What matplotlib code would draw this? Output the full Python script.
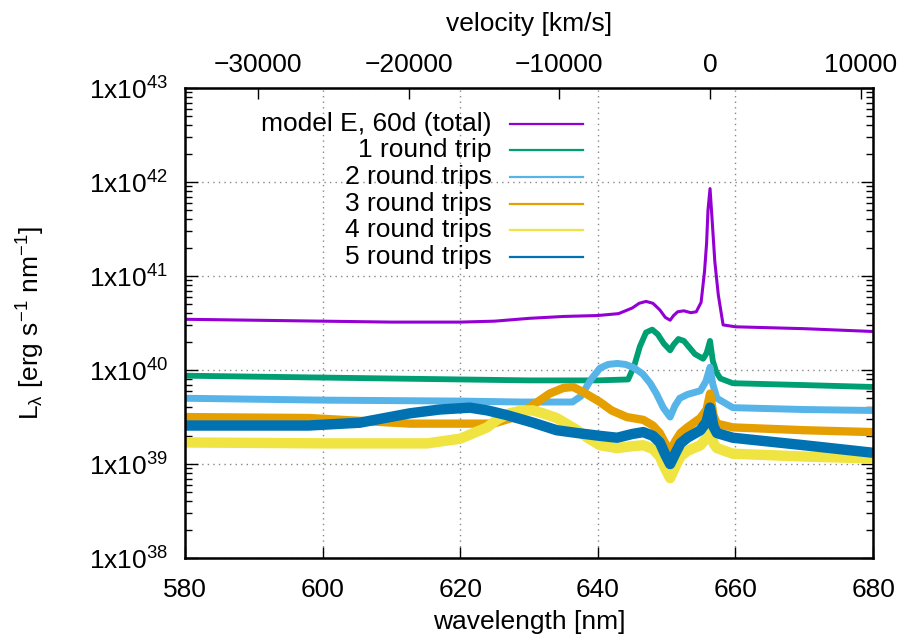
"""Spectra of model E at 60d split by number of round trips."""

import numpy as np
import matplotlib
matplotlib.use("Agg")
import matplotlib.pyplot as plt
from matplotlib.ticker import FixedLocator, LogLocator, NullFormatter, FuncFormatter

plt.rcParams['font.family'] = ['Liberation Sans', 'DejaVu Sans']
plt.rcParams['mathtext.fontset'] = 'custom'
plt.rcParams['mathtext.rm'] = 'Liberation Sans'
plt.rcParams['mathtext.it'] = 'Liberation Sans'

FS = 19

# wavelength [nm] and log10 L_lambda [erg/s/nm]
total_wl = [580, 590, 600, 610, 620, 625, 630, 635, 640, 643, 645, 646, 647,
            648, 649, 649.8, 650.5, 651, 651.6, 652.5, 653.5, 654.3, 655,
            655.5, 655.8, 656.0, 656.3, 656.6, 657.0, 657.5, 658.2, 660, 670,
            680]
total_logL = [40.54, 40.53, 40.52, 40.51, 40.51, 40.52, 40.55, 40.57, 40.58,
              40.60, 40.66, 40.71, 40.73, 40.71, 40.64, 40.56, 40.53, 40.58,
              40.62, 40.63, 40.61, 40.62, 40.72, 41.05, 41.35, 41.70, 41.93,
              41.60, 41.15, 40.80, 40.48, 40.46, 40.44, 40.41]

trip1_wl = [580, 600, 620, 630, 640, 644.4, 645.3, 646.1, 647, 647.9, 648.7,
            649.6, 650.5, 651, 651.7, 652.5, 653.3, 654.1, 655.3, 655.8, 656.3,
            656.7, 657.2, 657.8, 659.6, 670, 680]
trip1_logL = [39.94, 39.92, 39.90, 39.89, 39.89, 39.90, 40.05, 40.25, 40.40,
              40.43, 40.38, 40.28, 40.21, 40.27, 40.33, 40.31, 40.24, 40.17,
              40.12, 40.18, 40.31, 40.10, 39.98, 39.91, 39.86, 39.84, 39.82]

trip2_wl = [580, 600, 620, 628.7, 636.3, 637.5, 639, 640.3, 641.5, 642.8, 644,
            645.1, 646.5, 647.6, 648.5, 649.5, 650.5, 651.2, 651.9, 653, 654.9,
            655.7, 656.3, 656.7, 657.3, 659.6, 670, 680]
trip2_logL = [39.70, 39.68, 39.67, 39.66, 39.66, 39.72, 39.90, 40.02, 40.06,
              40.07, 40.06, 40.03, 39.96, 39.86, 39.75, 39.60, 39.50, 39.62,
              39.70, 39.74, 39.78, 39.88, 40.03, 39.85, 39.70, 39.60, 39.58,
              39.57]

trip3_wl = [580, 598, 612.7, 624.8, 628, 630.6, 633, 635, 636.4, 638, 640.3,
            642, 644.2, 646.6, 648, 649.0, 649.8, 650.5, 651.3, 652, 653.0,
            654.9, 655.8, 656.3, 656.8, 657.3, 659.6, 670, 680]
trip3_logL = [39.50, 39.49, 39.43, 39.43, 39.50, 39.63, 39.75, 39.81, 39.82,
              39.76, 39.66, 39.57, 39.50, 39.47, 39.41, 39.33, 39.22, 39.14,
              39.25, 39.33, 39.39, 39.49, 39.58, 39.75, 39.52, 39.43, 39.39,
              39.36, 39.34]

trip4_wl = [580, 600.6, 615.2, 620, 623.9, 625.5, 627.2, 629, 630.6, 632, 634,
            637, 638.5, 640.3, 642.8, 645, 646.6, 648, 649, 649.8, 650.5,
            651.3, 652, 653, 654.9, 655.8, 656.3, 656.8, 657.3, 659.6, 670,
            680]
trip4_logL = [39.23, 39.22, 39.22, 39.27, 39.39, 39.48, 39.54, 39.57, 39.57,
              39.54, 39.49, 39.36, 39.28, 39.20, 39.17, 39.19, 39.20, 39.16,
              39.08, 38.95, 38.85, 38.98, 39.08, 39.14, 39.20, 39.28, 39.41,
              39.22, 39.17, 39.11, 39.08, 39.06]

trip5_wl = [580, 598, 605.4, 612.7, 617, 621.4, 624, 626.8, 630.6, 634, 637,
            640.3, 642.8, 645, 646.6, 648, 649, 649.8, 650.5, 651.3, 652, 653,
            654.9, 655.8, 656.3, 656.8, 657.3, 659.6, 670, 680]
trip5_logL = [39.41, 39.41, 39.44, 39.54, 39.58, 39.60, 39.57, 39.52, 39.44,
              39.36, 39.33, 39.30, 39.28, 39.32, 39.34, 39.30, 39.23, 39.10,
              39.00, 39.12, 39.22, 39.28, 39.36, 39.45, 39.60, 39.40, 39.33,
              39.28, 39.20, 39.12]

labels = ['model E, 60d (total)', '1 round trip', '2 round trips',
          '3 round trips', '4 round trips', '5 round trips']
colors = ['#9400d3', '#009e73', '#56b4e9', '#e69f00', '#f0e442', '#0072b2']
widths = [2.2, 4.2, 5.0, 6.0, 7.5, 7.5]

C_KMS = 299792.458
LAM0 = 656.3

series = [(total_wl, total_logL), (trip1_wl, trip1_logL), (trip2_wl, trip2_logL),
          (trip3_wl, trip3_logL), (trip4_wl, trip4_logL), (trip5_wl, trip5_logL)]

fig = plt.figure(figsize=(9.03, 6.40), dpi=100)
ax = fig.add_axes([0.2049, 0.128, 0.762, 0.7345])

for (wl, lg), c, lw in zip(series, colors, widths):
    ax.plot(wl, np.power(10.0, lg), color=c, lw=lw, solid_joinstyle='round',
            solid_capstyle='butt')

ax.set_yscale('log')
ax.set_xlim(580, 680)
ax.set_ylim(1e38, 1e43)

ax.xaxis.set_major_locator(FixedLocator([580, 600, 620, 640, 660, 680]))
ax.yaxis.set_major_locator(LogLocator(base=10, numticks=10))
ax.yaxis.set_minor_locator(LogLocator(base=10, subs=np.arange(2, 10), numticks=20))
ax.yaxis.set_minor_formatter(NullFormatter())
ax.yaxis.set_major_formatter(FuncFormatter(
    lambda v, p: r'1x10$^{%d}$' % round(np.log10(v))))

ax.tick_params(axis='both', which='both', direction='in', labelsize=FS)
ax.tick_params(axis='y', which='both', right=True)
ax.tick_params(axis='y', which='major', length=9, width=1, pad=12)
ax.tick_params(axis='y', which='minor', length=5, width=1)
ax.tick_params(axis='x', which='major', length=8, width=1, top=False, pad=14)
ax.grid(True, which='major', color='#888888', linestyle=(0, (1, 3)), lw=1.0)
for s in ax.spines.values():
    s.set_linewidth(1.8)

ax.set_xlabel('wavelength [nm]', fontsize=FS, labelpad=6)
ax.set_ylabel(r'L$_{\mathrm{λ}}$ [erg s$^{-1}$ nm$^{-1}$]', fontsize=FS)
ax.yaxis.set_label_coords(-0.2005, 0.5)

sec = ax.secondary_xaxis('top', functions=(
    lambda lam: (np.asarray(lam) - LAM0) / LAM0 * C_KMS,
    lambda v: LAM0 * (1 + np.asarray(v) / C_KMS)))
sec.set_xticks([-30000, -20000, -10000, 0, 10000])
sec.tick_params(direction='in', length=8, width=1, labelsize=FS, pad=8)
sec.minorticks_off()
sec.set_xlabel('velocity [km/s]', fontsize=FS, labelpad=16)

# gnuplot-style key: right-justified text, sample line to the right
row0, drow = 0.924, 0.0566
for i, (lab, c) in enumerate(zip(labels, colors)):
    yk = row0 - i * drow
    ax.text(0.446, yk, lab, transform=ax.transAxes, ha='right', va='center',
            fontsize=FS)
    ax.plot([0.472, 0.578], [yk, yk], transform=ax.transAxes, color=c, lw=1.6)

fig.savefig('out.png', dpi=100)
